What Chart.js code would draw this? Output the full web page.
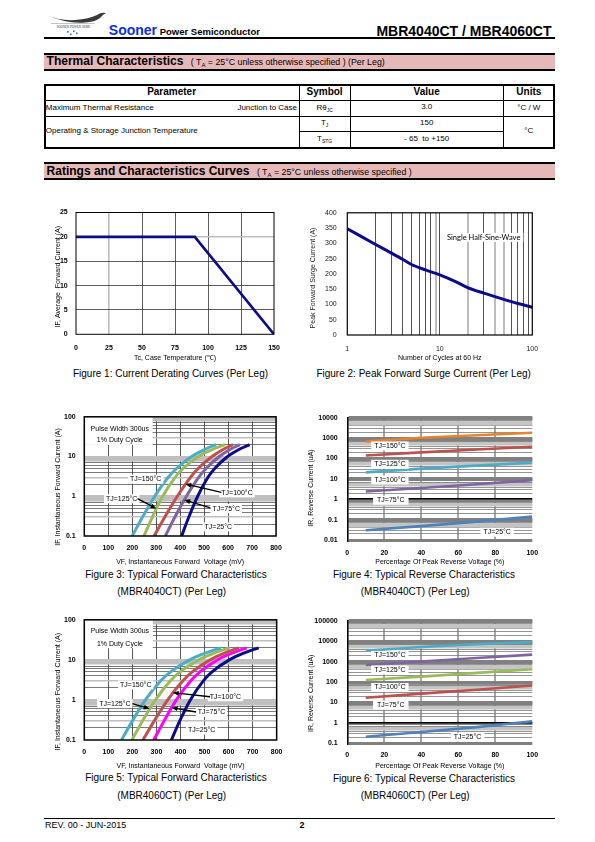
<!DOCTYPE html>
<html>
<head>
<meta charset="utf-8">
<title>MBR4040CT / MBR4060CT</title>
<script src="https://cdn.jsdelivr.net/npm/chart.js@4.4.1/dist/chart.umd.min.js"></script>
<style>
html,body{margin:0;padding:0;background:#fff;}
#page{position:relative;width:595px;height:842px;overflow:hidden;font-family:"Liberation Sans",Arial,Helvetica,sans-serif;color:#000;}
.t{position:absolute;white-space:nowrap;}
.c{transform:translateX(-50%);}
.r{transform:translateX(-100%);}
.ln{position:absolute;background:#000;}
.pink{position:absolute;background:#e6b9b8;}
canvas{position:absolute;}
.cap{font-size:10px;line-height:12px;}
.sub{font-size:6px;vertical-align:-2px;line-height:0;}
</style>
</head>
<body>
<div id="page">
  <!-- logo -->
  <svg class="t" style="left:45px;top:12px" width="62" height="25" viewBox="0 0 62 25">
    <path d="M1 3 Q14 9 30 8 Q44 7 52 3 Q56 0 61 1 Q57 3 55 6 Q50 10 40 10.5 Q22 12 1 3 Z" fill="#3a3a3a"/>
    <path d="M6 11.5 L50 11.5" stroke="#888" stroke-width="0.5"/>
    <text x="28" y="15.5" font-size="3.2" text-anchor="middle" fill="#333" font-family="Liberation Serif, serif">SOONER POWER SEMI</text>
    <rect x="22" y="19" width="1.6" height="1.6" fill="#2a6fdb"/>
    <rect x="25" y="21.5" width="1.6" height="1.6" fill="#2a6fdb"/>
    <rect x="28" y="18.5" width="1.6" height="1.6" fill="#2a6fdb"/>
    <rect x="31" y="20.5" width="1.6" height="1.6" fill="#2a6fdb"/>
  </svg>
  <div class="t" style="left:108.8px;top:22.4px;font-weight:bold;font-size:14px;line-height:16px;"><span style="color:#0a2ee6">Sooner</span><span style="font-size:9.5px;"> Power Semiconductor</span></div>
  <div class="t r" style="left:551.5px;top:22.7px;font-weight:bold;font-size:14px;line-height:16px;">MBR4040CT / MBR4060CT</div>
  <div class="ln" style="left:44px;top:37px;width:511px;height:2px;"></div>

  <!-- Thermal bar -->
  <div class="ln" style="left:44px;top:53px;width:511px;height:2px;"></div>
  <div class="pink" style="left:44px;top:55px;width:511px;height:14px;"></div>
  <div class="ln" style="left:44px;top:69px;width:511px;height:2px;"></div>
  <div class="t" style="left:46.6px;top:54px;font-weight:bold;font-size:12px;line-height:14px;">Thermal Characteristics</div>
  <div class="t" style="left:190.8px;top:56px;font-size:8.8px;line-height:12px;">( T<span class="sub">A</span> = 25°C unless otherwise specified ) (Per Leg)</div>

  <!-- Table -->
  <div style="position:absolute;left:43.5px;top:83.5px;width:511.5px;height:65px;border:2px solid #000;box-sizing:border-box;"></div>
  <div class="ln" style="left:44px;top:99.5px;width:511px;height:1px;"></div>
  <div class="ln" style="left:44px;top:115.5px;width:511px;height:1.2px;"></div>
  <div class="ln" style="left:299px;top:131px;width:204px;height:1px;"></div>
  <div class="ln" style="left:298.5px;top:84px;width:1px;height:64px;"></div>
  <div class="ln" style="left:350px;top:84px;width:1px;height:64px;"></div>
  <div class="ln" style="left:502.5px;top:84px;width:1px;height:64px;"></div>

  <div class="t c" style="left:171.6px;top:86px;font-weight:bold;font-size:10px;line-height:12px;">Parameter</div>
  <div class="t c" style="left:324.6px;top:86px;font-weight:bold;font-size:10px;line-height:12px;">Symbol</div>
  <div class="t c" style="left:426.7px;top:86px;font-weight:bold;font-size:10px;line-height:12px;">Value</div>
  <div class="t c" style="left:528.8px;top:86px;font-weight:bold;font-size:10px;line-height:12px;">Units</div>

  <div class="t" style="left:45.8px;top:102.5px;font-size:8px;line-height:10px;">Maximum Thermal Resistance</div>
  <div class="t r" style="left:297px;top:102.5px;font-size:8px;line-height:10px;">Junction to Case</div>
  <div class="t c" style="left:324.6px;top:102.5px;font-size:8px;line-height:10px;">Rθ<span class="sub" style="font-size:5px">JC</span></div>
  <div class="t c" style="left:426.7px;top:101.7px;font-size:8px;line-height:10px;">3.0</div>
  <div class="t c" style="left:528.8px;top:103px;font-size:8px;line-height:10px;">°C / W</div>

  <div class="t" style="left:45.8px;top:125.7px;font-size:8px;line-height:10px;">Operating &amp; Storage Junction Temperature</div>
  <div class="t c" style="left:324.6px;top:118.3px;font-size:8px;line-height:10px;">T<span class="sub" style="font-size:5px">J</span></div>
  <div class="t c" style="left:426.7px;top:118px;font-size:8px;line-height:10px;">150</div>
  <div class="t c" style="left:324.6px;top:134.3px;font-size:8px;line-height:10px;">T<span class="sub" style="font-size:5px">STG</span></div>
  <div class="t c" style="left:426.7px;top:134px;font-size:8px;line-height:10px;">- 65&nbsp; to +150</div>
  <div class="t c" style="left:528.8px;top:126px;font-size:8px;line-height:10px;">°C</div>

  <!-- Ratings bar -->
  <div class="ln" style="left:44px;top:162px;width:511px;height:2px;"></div>
  <div class="pink" style="left:44px;top:164px;width:511px;height:14px;"></div>
  <div class="ln" style="left:44px;top:178px;width:511px;height:2px;"></div>
  <div class="t" style="left:46.6px;top:164px;font-weight:bold;font-size:12px;line-height:14px;">Ratings and Characteristics Curves</div>
  <div class="t" style="left:256.9px;top:166.3px;font-size:8.8px;line-height:12px;">( T<span class="sub">A</span> = 25°C unless otherwise specified )</div>

  <canvas id="c1"></canvas>
  <canvas id="c2"></canvas>
  <canvas id="c3"></canvas>
  <canvas id="c4"></canvas>
  <canvas id="c5"></canvas>
  <canvas id="c6"></canvas>

  <div class="t c cap" style="left:170.5px;top:368px;">Figure 1: Current Derating Curves (Per Leg)</div>
  <div class="t c cap" style="left:423.7px;top:368px;">Figure 2: Peak Forward Surge Current (Per Leg)</div>
  <div class="t r cap" style="left:266.7px;top:569px;">Figure 3: Typical Forward Characteristics</div>
  <div class="t c cap" style="left:171.7px;top:585.7px;">(MBR4040CT) (Per Leg)</div>
  <div class="t r cap" style="left:515px;top:569px;">Figure 4: Typical Reverse Characteristics</div>
  <div class="t c cap" style="left:415.2px;top:586px;">(MBR4040CT) (Per Leg)</div>
  <div class="t r cap" style="left:266.7px;top:772.3px;">Figure 5: Typical Forward Characteristics</div>
  <div class="t c cap" style="left:171.7px;top:789.7px;">(MBR4060CT) (Per Leg)</div>
  <div class="t r cap" style="left:515px;top:773px;">Figure 6: Typical Reverse Characteristics</div>
  <div class="t c cap" style="left:415.2px;top:790px;">(MBR4060CT) (Per Leg)</div>

  <!-- footer -->
  <div class="ln" style="left:44px;top:818px;width:511px;height:1px;"></div>
  <div class="t" style="left:45px;top:820px;font-size:9px;line-height:11px;">REV. 00 - JUN-2015</div>
  <div class="t" style="left:299.6px;top:820px;font-size:9px;line-height:11px;font-weight:bold;">2</div>
</div>

<script>
// ================= DATA =================
// Figure 1: current derating
const fig1Temp = [0, 90, 150];
const fig1Current = [20, 20, 0];
const fig1XTicks = [0, 25, 50, 75, 100, 125, 150];
const fig1YTicks = [0, 5, 10, 15, 20, 25];

// Figure 2: peak forward surge current
const fig2Cycles = [1, 2, 3, 4, 5, 7, 10, 15, 20, 30, 50, 70, 100];
const fig2Surge = [348, 297, 268, 247, 230, 213, 197, 174, 155, 137, 116, 103, 91];
const fig2XTicks = ['1', '10', '100'];
const fig2YTicks = [0, 50, 100, 150, 200, 250, 300, 350, 400];

// Figure 3: forward characteristics MBR4040CT (current A vs voltage mV)
const fig3Current = [0.1, 0.3, 1, 3, 5, 10, 15, 20];
const fig3V150 = [200, 243, 294, 350, 385, 448, 501, 550];
const fig3V125 = [249, 284, 327, 379, 412, 476, 534, 587];
const fig3V100 = [291, 336, 388, 443, 475, 533, 579, 620];
const fig3V75  = [338, 378, 426, 477, 508, 563, 608, 649];
const fig3V25  = [406, 436, 473, 516, 544, 598, 645, 690];
const fig3XTicks = [0, 100, 200, 300, 400, 500, 600, 700, 800];
const fig3YTicks = ['0.1', '1', '10', '100'];

// Figure 4: reverse characteristics MBR4040CT (uA vs % of VRRM)
const fig4Pct = [10, 40, 70, 100];
const fig4I150 = [690, 1050, 1400, 1850];
const fig4I125 = [140, 200, 280, 380];
const fig4I100 = [21, 32, 45, 63];
const fig4I75  = [2.4, 3.6, 5.5, 8.7];
const fig4I25  = [0.03, 0.048, 0.08, 0.14];
const fig4XTicks = [0, 20, 40, 60, 80, 100];
const fig4YTicks = ['0.01', '0.1', '1', '10', '100', '1000', '10000'];

// Figure 5: forward characteristics MBR4060CT
const fig5Current = [0.1, 0.3, 1, 3, 5, 10, 15, 20];
const fig5V150 = [155, 200, 254, 318, 359, 438, 506, 569];
const fig5V125 = [198, 242, 296, 358, 398, 476, 542, 604];
const fig5V100 = [244, 291, 347, 410, 449, 523, 585, 642];
const fig5V75  = [289, 332, 383, 443, 481, 554, 617, 675];
const fig5V25  = [362, 397, 441, 495, 531, 603, 666, 725];
const fig5XTicks = [0, 100, 200, 300, 400, 500, 600, 700, 800];
const fig5YTicks = ['0.1', '1', '10', '100'];

// Figure 6: reverse characteristics MBR4060CT
const fig6Pct = [10, 40, 70, 100];
const fig6I150 = [3400, 5200, 7200, 9000];
const fig6I125 = [680, 1000, 1500, 2200];
const fig6I100 = [125, 185, 280, 420];
const fig6I75  = [17, 27, 42, 68];
const fig6I25  = [0.21, 0.36, 0.62, 1.2];
const fig6XTicks = [0, 20, 40, 60, 80, 100];
const fig6YTicks = ['0.1', '1', '10', '100', '1000', '10000', '100000'];

// ================= SETUP =================
const FONT = '"Liberation Sans", Arial, Helvetica, sans-serif';
Chart.defaults.font.family = FONT;
Chart.defaults.font.size = 7;
Chart.defaults.color = '#000';
Chart.defaults.animation = false;
Chart.defaults.responsive = false;
Chart.defaults.devicePixelRatio = 1;
Chart.defaults.events = [];
Chart.defaults.plugins.legend.display = false;
Chart.defaults.plugins.tooltip.enabled = false;
Chart.defaults.elements.point.radius = 0;
Chart.defaults.elements.point.hoverRadius = 0;

const NOTES = {};
const FRAMES = {};
const YTITLES = {};

function fmt(v) { return String(Number(Number(v).toPrecision(3))); }
function mant(v) { const e = Math.floor(Math.log10(v) + 1e-9); return Math.round(v / Math.pow(10, e)); }
function logTicks(minExp, maxExp) {
  const t = [];
  for (let e = minExp; e < maxExp; e++) for (let m = 1; m < 10; m++) t.push({value: Number((m * Math.pow(10, e)).toPrecision(3))});
  t.push({value: Number(Math.pow(10, maxExp).toPrecision(3))});
  return t;
}
function pts(xs, ys) { return xs.map((x, i) => ({x: x, y: ys[i]})); }
function line(xs, ys, color, w, smooth) {
  return {data: pts(xs, ys), borderColor: color, borderWidth: w, fill: false, tension: 0,
          cubicInterpolationMode: smooth ? 'monotone' : 'default', borderCapStyle: 'butt'};
}

const framePlugin = {
  id: 'frameBox',
  afterDraw(chart) {
    const f = FRAMES[chart.canvas.id]; if (!f) return;
    const ctx = chart.ctx, a = chart.chartArea;
    ctx.save();
    ctx.strokeStyle = f.color; ctx.lineWidth = f.width;
    if (f.sides === 'all') ctx.strokeRect(a.left, a.top, a.right - a.left, a.bottom - a.top);
    ctx.restore();
  }
};
const yTitlePlugin = {
  id: 'yTitleText',
  afterDraw(chart) {
    const o = YTITLES[chart.canvas.id]; if (!o) return;
    const ctx = chart.ctx;
    ctx.save();
    ctx.translate(o.x, o.y);
    ctx.rotate(-Math.PI / 2);
    ctx.font = (o.weight || 'normal') + ' ' + (o.size || 7) + 'px ' + FONT;
    ctx.fillStyle = o.color || '#000';
    ctx.textAlign = 'center'; ctx.textBaseline = 'middle';
    ctx.fillText(o.text, 0, 0);
    ctx.restore();
  }
};
const notesPlugin = {
  id: 'notesText',
  afterDatasetsDraw(chart) {
    const n = NOTES[chart.canvas.id]; if (!n) return;
    const ctx = chart.ctx, xs = chart.scales.x, ys = chart.scales.y;
    const X = v => xs.getPixelForValue(v), Y = v => ys.getPixelForValue(v);
    ctx.save();
    ctx.textAlign = 'center'; ctx.textBaseline = 'middle';
    (n.boxes || []).forEach(b => {
      const x0 = X(b.x0), x1 = X(b.x1), y0 = Y(b.y0), y1 = Y(b.y1);
      ctx.fillStyle = '#fff';
      ctx.fillRect(Math.min(x0, x1), Math.min(y0, y1), Math.abs(x1 - x0), Math.abs(y1 - y0));
      ctx.fillStyle = '#000';
      ctx.font = (b.size || 7) + 'px ' + (b.font || FONT);
      b.lines.forEach(l => ctx.fillText(l.text, X(l.x), Y(l.y)));
    });
    (n.labels || []).forEach(l => {
      ctx.font = (l.weight || 'normal') + ' ' + (l.size || 7) + 'px ' + (l.font || FONT);
      const w = ctx.measureText(l.text).width, px = X(l.x), py = Y(l.y), pad = (l.pad == null ? 2 : l.pad);
      ctx.fillStyle = '#fff';
      ctx.fillRect(px - w / 2 - pad, py - 4.5, w + 2 * pad, 9);
      ctx.fillStyle = '#000';
      ctx.fillText(l.text, px, py);
    });
    (n.arrows || []).forEach(a => {
      const x1 = X(a.x1), y1 = Y(a.y1), x2 = X(a.x2), y2 = Y(a.y2);
      const ang = Math.atan2(y2 - y1, x2 - x1), L = 6, W = 2.4, c = Math.cos(ang), s = Math.sin(ang);
      ctx.strokeStyle = '#000'; ctx.fillStyle = '#000'; ctx.lineWidth = 1.3;
      ctx.beginPath(); ctx.moveTo(x1, y1); ctx.lineTo(x2 - L * 0.7 * c, y2 - L * 0.7 * s); ctx.stroke();
      ctx.beginPath(); ctx.moveTo(x2, y2);
      ctx.lineTo(x2 - L * c + W * s, y2 - L * s - W * c);
      ctx.lineTo(x2 - L * c - W * s, y2 - L * s + W * c);
      ctx.closePath(); ctx.fill();
    });
    ctx.restore();
  }
};
Chart.register(framePlugin, yTitlePlugin, notesPlugin);

function build(id, box, area, cfg, ytitle, frame) {
  const cv = document.getElementById(id);
  const w = box.r - box.l, h = box.b - box.t;
  cv.width = w; cv.height = h;
  cv.style.left = box.l + 'px'; cv.style.top = box.t + 'px';
  cv.style.width = w + 'px'; cv.style.height = h + 'px';
  cfg.options = cfg.options || {};
  cfg.options.layout = {autoPadding: false, padding: {left: 0, top: area.t - box.t, right: box.r - area.r, bottom: 0}};
  const xs = cfg.options.scales.x, ys = cfg.options.scales.y;
  xs.afterFit = s => { s.height = box.b - area.b; };
  ys.afterFit = s => { s.width = area.l - box.l; };
  if (xs.title && xs.titleCy != null) {
    const lh = 8.4;
    xs.title.padding = {top: 0, bottom: Math.max(0, box.b - xs.titleCy - lh / 2)};
    delete xs.titleCy;
  }
  if (ytitle) YTITLES[id] = Object.assign({}, ytitle, {x: ytitle.cx - box.l, y: ytitle.cy - box.t});
  if (frame) FRAMES[id] = frame;
  return new Chart(cv, cfg);
}
const NONE = 'rgba(0,0,0,0)';

// ---------- Figure 1 ----------
build('c1', {l: 44, t: 200, r: 292, b: 364}, {l: 76, t: 212.3, r: 274, b: 334.3}, {
  type: 'line',
  data: {datasets: [line(fig1Temp, fig1Current, '#0c0c8a', 2.6, false)]},
  options: {scales: {
    x: {type: 'linear', min: 0, max: 150, afterBuildTicks: s => { s.ticks = fig1XTicks.map(v => ({value: v})); },
        ticks: {padding: 9.2, autoSkip: false, maxRotation: 0, font: {size: 7, weight: 'bold'}, callback: v => String(v)},
        grid: {drawTicks: false, color: c => (c.tick.value === 0 || c.tick.value === 150) ? NONE : (c.tick.value === 25 ? '#bdbdbd' : '#333'),
               lineWidth: c => c.tick.value === 25 ? 1.6 : 0.8},
        border: {display: false},
        title: {display: true, text: 'Tc, Case Temperature (℃)', font: {size: 7}}, titleCy: 358},
    y: {type: 'linear', min: 0, max: 25, afterBuildTicks: s => { s.ticks = fig1YTicks.map(v => ({value: v})); },
        ticks: {padding: 8.3, autoSkip: false, font: {size: 7, weight: 'bold'}, callback: v => String(v)},
        grid: {drawTicks: false, color: c => (c.tick.value === 0 || c.tick.value === 25) ? NONE : (c.tick.value === 20 ? '#bdbdbd' : '#333'),
               lineWidth: c => c.tick.value === 20 ? 1.6 : 0.8},
        border: {display: false}}
  }}
}, {text: 'IF, Average  Forward Current (A)', cx: 58.3, cy: 276.7}, {sides: 'all', color: '#000', width: 1});

// ---------- Figure 2 ----------
NOTES.c2 = {labels: [{text: 'Single Half-Sine-Wave', x: 29.8, y: 319.5, font: 'Lato, "Open Sans", sans-serif', size: 7.5, pad: 3}]};
build('c2', {l: 300, t: 198, r: 548, b: 364}, {l: 347.3, t: 210.7, r: 532.3, b: 335}, {
  type: 'line',
  data: {datasets: [line(fig2Cycles, fig2Surge, '#0c0c8a', 3, true)]},
  options: {scales: {
    x: {type: 'logarithmic', min: 1, max: 100, afterBuildTicks: s => { s.ticks = logTicks(0, 2); },
        ticks: {padding: 9.8, autoSkip: false, maxRotation: 0, color: '#222', callback: v => fig2XTicks.includes(fmt(v)) ? fmt(v) : ''},
        grid: {drawTicks: false,
               color: c => { const v = c.tick.value; if (v <= 1 || v >= 100) return NONE; return [9, 20, 40, 50].includes(v) ? '#bdbdbd' : '#262626'; },
               lineWidth: c => [9, 20, 40, 50].includes(c.tick.value) ? 2 : 0.8},
        border: {display: false},
        title: {display: true, text: 'Number of Cycles at 60 Hz', font: {size: 7}}, titleCy: 358.3},
    y: {type: 'linear', min: 0, max: 400, afterBuildTicks: s => { s.ticks = fig2YTicks.map(v => ({value: v})); },
        ticks: {padding: 10.6, autoSkip: false, color: '#222', callback: v => String(v)},
        grid: {display: false, drawTicks: false}, border: {display: false}}
  }}
}, {text: 'Peak Forward Surge Current (A)', cx: 312.7, cy: 278, color: '#222'}, {sides: 'all', color: '#000', width: 1.2});

// ---------- forward characteristic helpers ----------
function fwdGridColor(c) {
  const v = c.tick.value, m = mant(v);
  if (v <= 0.1 + 1e-9 || v >= 100 - 1e-9) return NONE;
  if (m === 8 || m === 9 || m === 1 || m === 3) return '#bfbfbf';
  return '#3f3f3f';
}
function fwdGridWidth(c) {
  const m = mant(c.tick.value);
  if (m === 8 || m === 9) return 2.5;
  if (m === 1) return 2;
  if (m === 3) return 1.5;
  return 0.7;
}
function fwdScales(xticks, yticks, xPad, xTitleCy) {
  return {
    x: {type: 'linear', min: 0, max: 800, afterBuildTicks: s => { s.ticks = xticks.map(v => ({value: v})); },
        ticks: {padding: xPad, autoSkip: false, maxRotation: 0, font: {size: 7, weight: 'bold'}, callback: v => String(v)},
        grid: {drawTicks: false, color: c => (c.tick.value === 0 || c.tick.value === 800) ? NONE : '#595959', lineWidth: 1},
        border: {display: false},
        title: {display: true, text: 'VF, Instantaneous Forward  Voltage (mV)', font: {size: 7}}, titleCy: xTitleCy},
    y: {type: 'logarithmic', min: 0.1, max: 100, afterBuildTicks: s => { s.ticks = logTicks(-1, 2); },
        ticks: {padding: 8.6, autoSkip: false, font: {size: 7, weight: 'bold'}, callback: v => yticks.includes(fmt(v)) ? fmt(v) : ''},
        grid: {drawTicks: false, color: fwdGridColor, lineWidth: fwdGridWidth},
        border: {display: false}}
  };
}

// ---------- Figure 3 ----------
NOTES.c3 = {
  boxes: [{x0: 2, x1: 285, y0: 97, y1: 19.6, size: 7, lines: [
    {text: 'Pulse Width 300us', x: 148, y: 49}, {text: '1% Duty Cycle', x: 148, y: 26}]}],
  labels: [
    {text: 'TJ=150°C', x: 256, y: 2.7}, {text: 'TJ=125°C', x: 156, y: 0.87},
    {text: 'TJ=100°C', x: 637, y: 1.22}, {text: 'TJ=75°C', x: 592, y: 0.49},
    {text: 'TJ=25°C', x: 559, y: 0.17}],
  arrows: [
    {x1: 222, y1: 0.87, x2: 301, y2: 0.49},
    {x1: 572, y1: 1.25, x2: 421, y2: 2.04},
    {x1: 526, y1: 0.51, x2: 417, y2: 0.81}]
};
build('c3', {l: 44, t: 404, r: 290, b: 568}, {l: 84.3, t: 414.3, r: 277.3, b: 536}, {
  type: 'line',
  data: {datasets: [
    line(fig3V150, fig3Current, '#4bacc6', 3, true),
    line(fig3V125, fig3Current, '#9bbb59', 3, true),
    line(fig3V100, fig3Current, '#c0504d', 3, true),
    line(fig3V75, fig3Current, '#8064a2', 3, true),
    line(fig3V25, fig3Current, '#0d0d8c', 3, true)]},
  options: {scales: fwdScales(fig3XTicks, fig3YTicks, 8.1, 562.3)}
}, {text: 'IF, Instantaneous Forward Current (A)', cx: 57.7, cy: 487}, {sides: 'all', color: '#000', width: 1.5});

// ---------- reverse characteristic helpers ----------
function revGridColor(c) {
  const v = c.tick.value, m = mant(v);
  if (Math.abs(v - 1) < 1e-9) return '#000';
  if (m === 1 || m === 9) return '#808080';
  if (m === 5 || m === 6) return '#c4c4c4';
  return '#7a7a7a';
}
function revGridWidth(c) {
  const v = c.tick.value, m = mant(v);
  if (Math.abs(v - 1) < 1e-9) return 1.6;
  if (m === 1 || m === 9) return 3;
  if (m === 5 || m === 6) return 2.5;
  return 0.8;
}
function revScales(xticks, yticks, minExp, maxExp, xPad, xTitleCy) {
  return {
    x: {type: 'linear', min: 0, max: 100, afterBuildTicks: s => { s.ticks = xticks.map(v => ({value: v})); },
        ticks: {padding: xPad, autoSkip: false, maxRotation: 0, font: {size: 7, weight: 'bold'}, callback: v => String(v)},
        grid: {drawTicks: false, color: c => (c.tick.value === 0 || c.tick.value === 100) ? NONE : '#a6a6a6', lineWidth: 2},
        border: {display: false},
        title: {display: true, text: 'Percentage Of Peak Reverse Voltage (%)', font: {size: 7}}, titleCy: xTitleCy},
    y: {type: 'logarithmic', min: Math.pow(10, minExp), max: Math.pow(10, maxExp),
        afterBuildTicks: s => { s.ticks = logTicks(minExp, maxExp); },
        ticks: {padding: 9.6, autoSkip: false, font: {size: 7, weight: 'bold'}, callback: v => yticks.includes(fmt(v)) ? fmt(v) : ''},
        grid: {drawTicks: false, color: revGridColor, lineWidth: revGridWidth},
        border: {display: true, color: '#000', width: 1.6}}
  };
}

// ---------- Figure 4 ----------
NOTES.c4 = {labels: [
  {text: 'TJ=150°C', x: 23, y: 415, pad: 3}, {text: 'TJ=125°C', x: 23, y: 52, pad: 3},
  {text: 'TJ=100°C', x: 23, y: 8.9, pad: 3}, {text: 'TJ=75°C', x: 23.5, y: 0.9, pad: 4},
  {text: 'TJ=25°C', x: 81, y: 0.024, pad: 3}]};
build('c4', {l: 300, t: 404, r: 548, b: 568}, {l: 347.3, t: 414, r: 532.3, b: 540}, {
  type: 'line',
  data: {datasets: [
    line(fig4Pct, fig4I150, '#e9822d', 2.6, false),
    line(fig4Pct, fig4I125, '#c0504d', 2.6, false),
    line(fig4Pct, fig4I100, '#4bacc6', 2.6, false),
    line(fig4Pct, fig4I75, '#8064a2', 2.6, false),
    line(fig4Pct, fig4I25, '#4f81bd', 2.6, false)]},
  options: {scales: revScales(fig4XTicks, fig4YTicks, -2, 4, 9.1, 562.3)}
}, {text: 'IR, Reverse Current (uA)', cx: 311, cy: 488}, null);

// ---------- Figure 5 ----------
NOTES.c5 = {
  boxes: [{x0: 2, x1: 285, y0: 97, y1: 19.5, size: 7, lines: [
    {text: 'Pulse Width 300us', x: 148, y: 52}, {text: '1% Duty Cycle', x: 148, y: 25}]}],
  labels: [
    {text: 'TJ=150°C', x: 214, y: 2.37}, {text: 'TJ=125°C', x: 127, y: 0.81},
    {text: 'TJ=100°C', x: 587, y: 1.2}, {text: 'TJ=75°C', x: 529, y: 0.49},
    {text: 'TJ=25°C', x: 488, y: 0.177}],
  arrows: [
    {x1: 200, y1: 0.81, x2: 272, y2: 0.6},
    {x1: 523, y1: 1.2, x2: 368, y2: 1.51},
    {x1: 465, y1: 0.5, x2: 363, y2: 0.64}]
};
build('c5', {l: 44, t: 607, r: 290, b: 772}, {l: 84.3, t: 617.7, r: 277.3, b: 740}, {
  type: 'line',
  data: {datasets: [
    line(fig5V150, fig5Current, '#4bacc6', 3, true),
    line(fig5V125, fig5Current, '#9bbb59', 3, true),
    line(fig5V100, fig5Current, '#c0504d', 3, true),
    line(fig5V75, fig5Current, '#ff00ff', 3, true),
    line(fig5V25, fig5Current, '#0d0d8c', 3, true)]},
  options: {scales: fwdScales(fig5XTicks, fig5YTicks, 7.5, 766)}
}, {text: 'IF, Instantaneous Forward Current (A)', cx: 57.7, cy: 691.7}, {sides: 'all', color: '#000', width: 1.5});

// ---------- Figure 6 ----------
NOTES.c6 = {labels: [
  {text: 'TJ=150°C', x: 23, y: 2000, pad: 3}, {text: 'TJ=125°C', x: 23, y: 390, pad: 3},
  {text: 'TJ=100°C', x: 23, y: 54, pad: 3}, {text: 'TJ=75°C', x: 23.5, y: 7.4, pad: 4},
  {text: 'TJ=25°C', x: 65, y: 0.2, pad: 3}]};
build('c6', {l: 300, t: 607, r: 548, b: 772}, {l: 347.3, t: 617.3, r: 532.3, b: 743.3}, {
  type: 'line',
  data: {datasets: [
    line(fig6Pct, fig6I150, '#4bacc6', 2.6, false),
    line(fig6Pct, fig6I125, '#8064a2', 2.6, false),
    line(fig6Pct, fig6I100, '#9bbb59', 2.6, false),
    line(fig6Pct, fig6I75, '#c0504d', 2.6, false),
    line(fig6Pct, fig6I25, '#4f81bd', 2.6, false)]},
  options: {scales: revScales(fig6XTicks, fig6YTicks, -1, 5, 7.5, 766)}
}, {text: 'IR, Reverse Current (uA)', cx: 311, cy: 693.3}, null);
</script>
</body>
</html>
